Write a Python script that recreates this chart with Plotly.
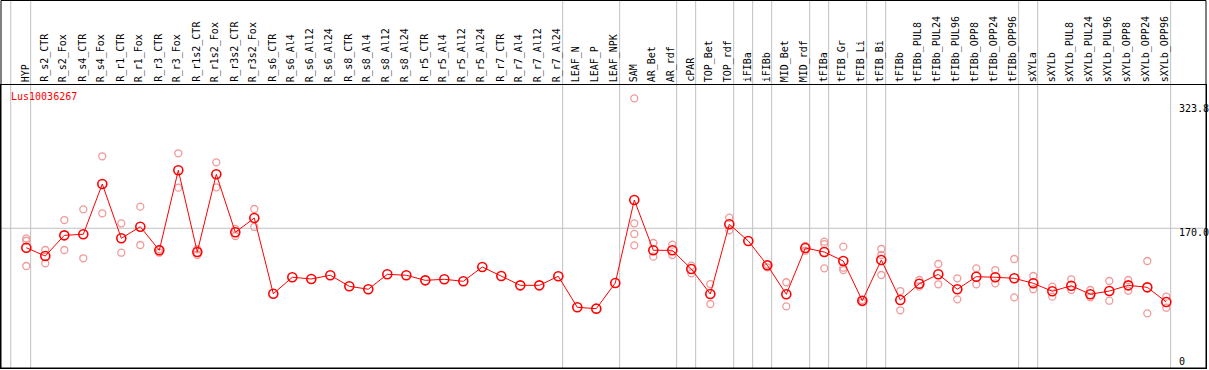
import plotly.graph_objects as go

samples = ["HYP", "R_s2_CTR", "R_s2_Fox", "R_s4_CTR", "R_s4_Fox", "R_r1_CTR", "R_r1_Fox",
           "R_r3_CTR", "R_r3_Fox", "R_r1s2_CTR", "R_r1s2_Fox", "R_r3s2_CTR", "R_r3s2_Fox",
           "R_s6_CTR", "R_s6_Al4", "R_s6_Al12", "R_s6_Al24", "R_s8_CTR", "R_s8_Al4", "R_s8_Al12",
           "R_s8_Al24", "R_r5_CTR", "R_r5_Al4", "R_r5_Al12", "R_r5_Al24", "R_r7_CTR", "R_r7_Al4",
           "R_r7_Al12", "R_r7_Al24", "LEAF_N", "LEAF_P", "LEAF_NPK", "SAM", "AR_Bet", "AR_rdf",
           "cPAR", "TOP_Bet", "TOP_rdf", "iFIBa", "iFIBb", "MID_Bet", "MID_rdf", "tFIBa",
           "tFIB_Gr", "tFIB_Li", "tFIB_Bi", "tFIBb", "tFIBb_PUL8", "tFIBb_PUL24", "tFIBb_PUL96",
           "tFIBb_OPP8", "tFIBb_OPP24", "tFIBb_OPP96", "sXYLa", "sXYLb", "sXYLb_PUL8",
           "sXYLb_PUL24", "sXYLb_PUL96", "sXYLb_OPP8", "sXYLb_OPP24", "sXYLb_OPP96"]

mean_values = [145.8, 135.5, 161.2, 162.5, 225.0, 157.5, 171.9, 142.6, 242.0, 140.5,
               237.0, 165.0, 182.7, 88.7, 109.1, 107.0, 111.6, 97.9, 94.2, 112.8,
               111.6, 105.3, 106.6, 104.1, 121.9, 110.7, 99.1, 99.1, 110.3, 71.8,
               70.1, 102.0, 205.1, 142.6, 142.6, 119.4, 88.3, 174.9, 154.2, 124.0,
               88.0, 145.5, 140.5, 129.3, 80.0, 130.6, 80.9, 101.1, 112.8, 94.2,
               109.8, 109.1, 107.8, 101.6, 91.7, 98.6, 88.0, 92.0, 99.1, 96.6, 78.4]

N = None
rep_a = [157.5, 143.0, 180.2, 193.5, 259.4, 176.1, 196.8, 143.9, 263.1, 143.9,
         251.9, 169.1, 193.9, N, N, N, N, N, N, N,
         N, N, N, N, N, N, N, N, N, N,
         N, N, 331.4, 151.7, 149.6, 123.5, 100.7, 183.1, N, 125.2,
         102.9, 148.0, 153.3, 147.1, 80.9, 144.2, 92.0, 105.7, 125.6, 107.8,
         120.2, 118.1, 131.8, 110.7, 97.4, 106.6, 93.3, 104.5, 105.7, 129.3, 85.0]
rep_b = [154.5, 126.5, 143.0, 132.7, 188.6, 139.6, 149.2, 139.6, 220.4, 136.8,
         220.9, 160.4, 171.6, N, N, N, N, N, N, N,
         N, N, N, N, N, N, N, N, N, N,
         N, N, 176.1, 134.7, 136.8, 114.0, 75.9, 167.5, N, 121.5,
         73.0, 142.1, 150.4, 121.0, 78.0, 136.8, 68.1, 97.4, 100.4, 81.7,
         100.4, 101.6, 84.2, 94.2, 85.0, 93.3, 84.2, 80.0, 92.4, 64.3, 71.3]
rep_c = [123.1, N, N, N, N, N, N, N, N, N,
         N, N, N, N, N, N, N, N, N, N,
         N, N, N, N, N, N, N, N, N, N,
         N, N, 162.9, N, N, N, N, N, N, N,
         N, N, 120.2, 118.1, N, 111.9, N, N, N, N,
         N, N, N, N, N, N, N, N, N, N, N]
rep_d = [N] * 32 + [148.8] + [N] * 28

group_breaks = [-1, 0, 28, 31, 34, 35, 37, 38, 39, 41, 42, 44, 45, 52, 53, 60]
tick_values = [0, 170.0, 323.8]
tick_labels = ["0", "170.0", "323.8"]
gene_id = "Lus10036267"

x_idx = list(range(len(samples)))
fig = go.Figure()

rep_color = "#f09a9a"
for reps in (rep_a, rep_b, rep_c, rep_d):
    fig.add_trace(go.Scatter(
        x=x_idx, y=reps, mode="markers",
        marker=dict(symbol="circle-open", size=7, color=rep_color, line=dict(width=1.3, color=rep_color)),
        showlegend=False, hoverinfo="skip"))

fig.add_trace(go.Scatter(
    x=x_idx, y=mean_values, mode="lines+markers",
    line=dict(color="#ff0000", width=1),
    marker=dict(symbol="circle-open", size=9, color="#ff0000", line=dict(width=1.6, color="#ff0000")),
    showlegend=False))

W, H = 1209, 370
ml, mr, mt, mb = 1, 3, 85, 2
plot_h = H - mt - mb
top_paper = (H - mb - 0.5) / plot_h

shapes = []
for b in group_breaks:
    xpos = b + 0.23 if b >= 0 else -0.82
    shapes.append(dict(type="line", xref="x", yref="paper", x0=xpos, x1=xpos, y0=0, y1=top_paper,
                       line=dict(color="#c0c0c0", width=1), layer="below"))
shapes.append(dict(type="line", xref="paper", yref="y", x0=0, x1=1, y0=170.0, y1=170.0,
                   line=dict(color="#c0c0c0", width=1), layer="below"))
# outer frame
shapes.append(dict(type="rect", xref="paper", yref="paper", x0=0, x1=1, y0=0, y1=top_paper,
                   line=dict(color="black", width=1), layer="above"))

annotations = []
for i, s in enumerate(samples):
    annotations.append(dict(x=i, y=1, xref="x", yref="paper", text=s, showarrow=False,
                            textangle=-90, xanchor="center", yanchor="bottom", yshift=1, xshift=-1,
                            font=dict(family="DejaVu Sans Mono", size=10, color="black")))
label_x = (1177 - ml) / (W - ml - mr)
for v, t in zip(tick_values, tick_labels):
    annotations.append(dict(x=label_x, y=v, xref="paper", yref="y", text=t, showarrow=False,
                            xanchor="left", yanchor="bottom" if v == 0 else "top",
                            yshift=-4 if v == 0 else 3,
                            font=dict(family="DejaVu Sans Mono", size=10, color="black")))
annotations.append(dict(x=(9 - ml) / (W - ml - mr), y=1, xref="paper", yref="paper", text=gene_id,
                        showarrow=False, xanchor="left", yanchor="top", yshift=-4,
                        font=dict(family="DejaVu Sans Mono", size=10, color="#ff0000")))

x0 = -1.3316
x1 = x0 + (W - ml - mr) / 19.0
fig.update_layout(
    width=W, height=H,
    margin=dict(l=ml, r=mr, t=mt, b=mb, pad=0),
    paper_bgcolor="white", plot_bgcolor="white",
    xaxis=dict(range=[x0, x1], showgrid=False, zeroline=False, showticklabels=False, ticks="",
               showline=True, mirror=True, linecolor="black", linewidth=1),
    yaxis=dict(range=[-3.6, 347.95], showgrid=False, zeroline=False, showticklabels=False, ticks="",
               showline=True, mirror=True, linecolor="black", linewidth=1),
    shapes=shapes, annotations=annotations,
)
fig.write_html("out.html", config={"displayModeBar": False},
               post_script="document.body.style.margin='0';document.body.style.overflow='hidden';")
